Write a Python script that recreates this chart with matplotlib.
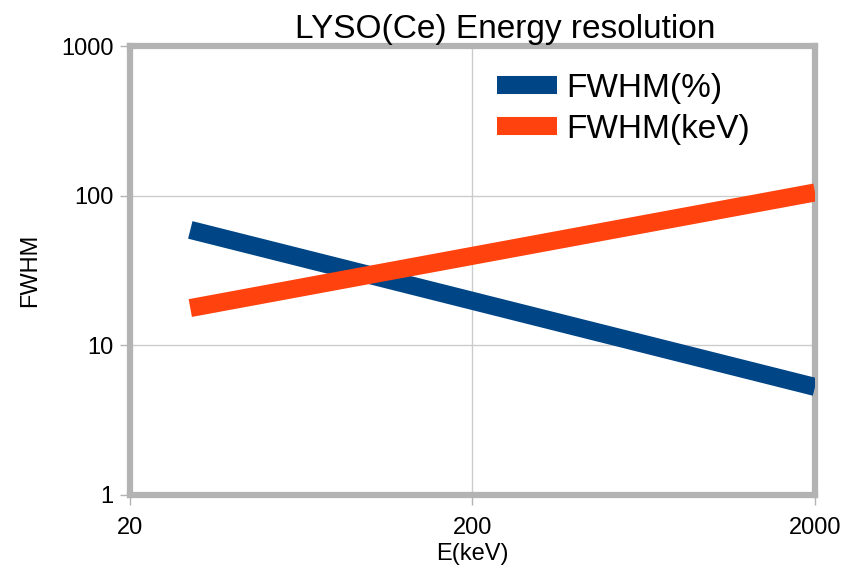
import matplotlib.pyplot as plt
from matplotlib.ticker import FixedLocator, NullLocator, FixedFormatter

plt.rcParams['font.family'] = ['Liberation Sans', 'DejaVu Sans']

# energy (keV) and resolution at the ends of the fitted range
energy = [30, 2000]
fwhm_pct = [59.3, 5.28]
fwhm_kev = [17.8, 105.6]

x_ticks = [20, 200, 2000]
y_ticks = [1, 10, 100, 1000]

fig = plt.figure(figsize=(8.59, 5.71), dpi=100)
ax = fig.add_axes([0.1513, 0.1331, 0.7975, 0.7855])

ax.plot(energy, fwhm_pct, color='#004586', lw=13, solid_capstyle='butt', label='FWHM(%)', zorder=3)
ax.plot(energy, fwhm_kev, color='#ff420e', lw=13, solid_capstyle='butt', label='FWHM(keV)', zorder=3)

ax.set_xscale('log')
ax.set_yscale('log')
ax.set_xlim(20, 2000)
ax.set_ylim(1, 1000)
ax.xaxis.set_major_locator(FixedLocator(x_ticks))
ax.xaxis.set_major_formatter(FixedFormatter([str(v) for v in x_ticks]))
ax.yaxis.set_major_locator(FixedLocator(y_ticks))
ax.yaxis.set_major_formatter(FixedFormatter([str(v) for v in y_ticks]))
ax.xaxis.set_minor_locator(NullLocator())
ax.yaxis.set_minor_locator(NullLocator())
ax.tick_params(axis='both', length=7, width=1, color='#b3b3b3', labelsize=17)
ax.tick_params(axis='x', pad=9)
ax.tick_params(axis='y', pad=5)
ax.grid(True, color='#cccccc', lw=1)
ax.set_axisbelow(True)

for sp in ax.spines.values():
    sp.set_color('#b3b3b3')
    sp.set_linewidth(4.5)

ax.set_xlabel('E(keV)', fontsize=17, labelpad=3)
ax.set_ylabel('FWHM', fontsize=17, labelpad=14)
fig.text(0.588, 1 - 38 / 571, 'LYSO(Ce) Energy resolution', ha='center', va='baseline', fontsize=24)

ax.legend(loc='upper left', bbox_to_anchor=(497 / 859, 1 - 73 / 571), bbox_transform=fig.transFigure,
          frameon=False, fontsize=24, borderpad=0, borderaxespad=0,
          handlelength=1.8, handletextpad=0.27, labelspacing=0.3)

fig.savefig('out.png', dpi=100)
